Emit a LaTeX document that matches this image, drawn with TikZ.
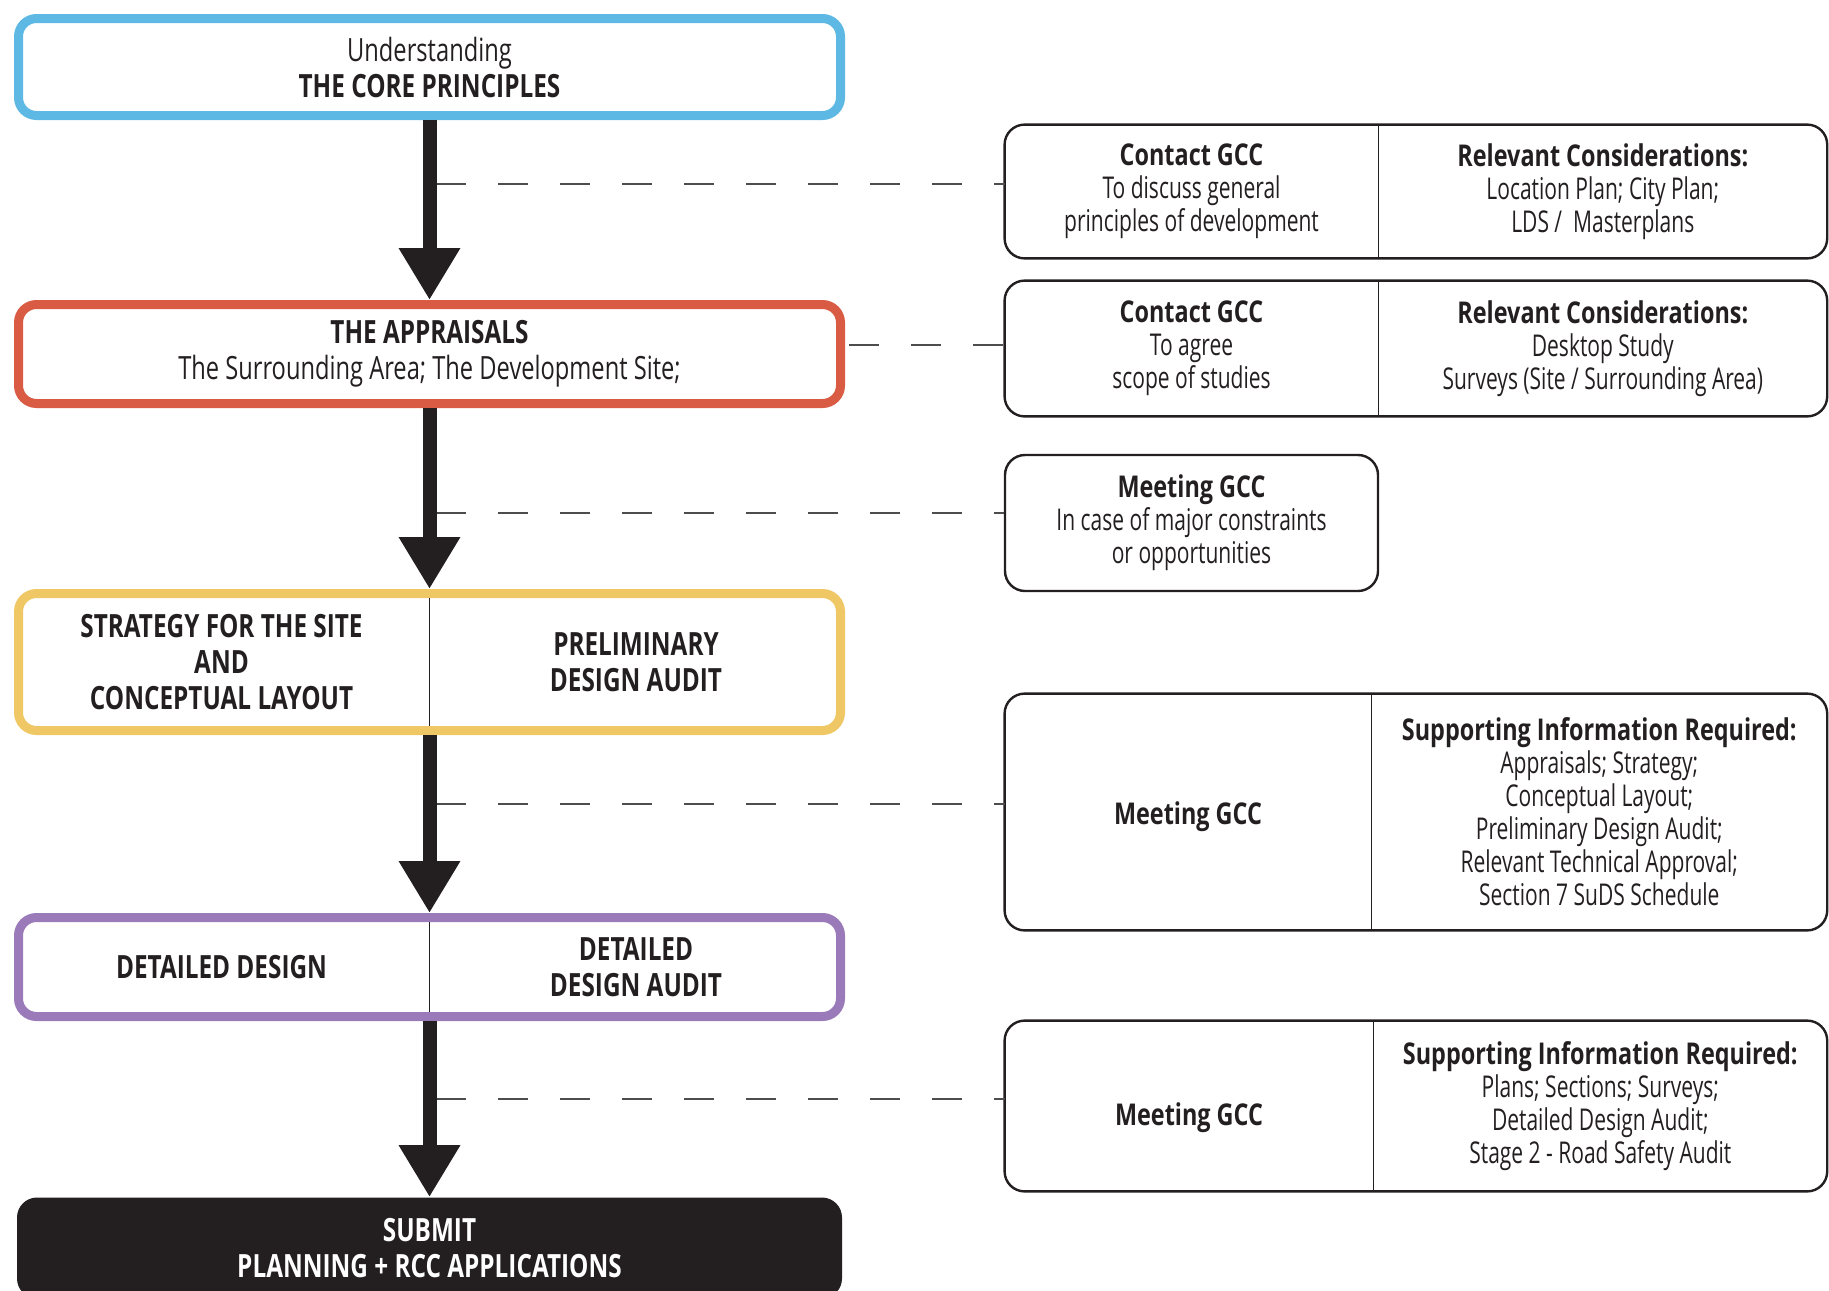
\documentclass[tikz,border=0pt]{standalone}
\usepackage{fontspec}
\setmainfont{Open Sans}[UprightFeatures={FakeStretch=0.7},BoldFeatures={FakeStretch=0.78}]
\newfontfamily\stagefont{Open Sans}[UprightFeatures={FakeStretch=0.74},BoldFeatures={FakeStretch=0.76}]
\usetikzlibrary{arrows.meta,positioning}
\definecolor{ink}{HTML}{231F20}
\definecolor{coreblue}{HTML}{5DB9E3}
\definecolor{apprred}{HTML}{D95B43}
\definecolor{stratyellow}{HTML}{EFC764}
\definecolor{detpurple}{HTML}{9A7AB8}
\definecolor{linkgray}{HTML}{4D4D4D}
\begin{document}
\begin{tikzpicture}[x=0.5pt,y=-0.5pt]
       \tikzstyle{stage}=[draw, line width=4.5pt, rounded corners=9pt, fill=white, minimum width=411pt, text=ink, align=center, font=\stagefont\fontsize{16}{18}\selectfont]
       \tikzstyle{stagetext}=[inner sep=0pt, text=ink, align=center, font=\stagefont\fontsize{16}{18}\selectfont\bfseries]
       \tikzstyle{cell}=[inner sep=0pt, text=ink, align=center, font=\fontsize{15}{16.5}\selectfont,
                         execute at begin node={\rule{0pt}{19pt}}]
       \tikzstyle{infobox}=[draw=ink, line width=1.2pt, rounded corners=10pt]
       \tikzstyle{divider}=[draw=ink, line width=0.8pt]
       \tikzstyle{flow}=[draw=ink, line width=7pt, -{Triangle[width=29pt,length=26pt]}]
       \tikzstyle{link}=[draw=linkgray, line width=1.1pt, dash pattern=on 15pt off 16pt]
       \useasboundingbox (0,0) rectangle (1829,1290);
       % stages on the left
       \node[stage, draw=coreblue, minimum height=48.5pt] (core) at (429.5,67)
        {Understanding\\\textbf{THE CORE PRINCIPLES}};
       \node[stage, draw=apprred, minimum height=49.5pt] (appr) at (429.5,354)
        {\textbf{THE APPRAISALS}\\The Surrounding Area; The Development Site;};
       \node[stage, draw=stratyellow, minimum height=68.5pt] (strat) at (429.5,662) {};
       \node[stagetext] (stratL) at (221.5,662) {STRATEGY FOR THE SITE\\AND\\CONCEPTUAL LAYOUT};
       \node[stagetext] (stratR) at (636,662) {PRELIMINARY\\DESIGN AUDIT};
       \draw[divider, shorten <=4.5pt, shorten >=4.5pt] (strat.north) -- (strat.south);
       \node[stage, draw=detpurple, minimum height=49.5pt] (det) at (429.5,967) {};
       \node[stagetext] (detL) at (221.5,967) {DETAILED DESIGN};
       \node[stagetext] (detR) at (636,967) {DETAILED\\DESIGN AUDIT};
       \draw[divider, shorten <=4.5pt, shorten >=4.5pt] (det.north) -- (det.south);
       \node[fill=ink, rounded corners=10pt, minimum width=412.5pt, minimum height=50.5pt,
             text=white, align=center, font=\stagefont\fontsize{16}{18}\selectfont\bfseries] (sub) at (429.5,1248)
        {SUBMIT\\PLANNING + RCC APPLICATIONS};
       % contacts and meetings on the right
       \node[cell, minimum width=186.5pt, minimum height=66.5pt] (c1l) at (1191.5,191.5)
        {\textbf{Contact GCC}\\To discuss general\\principles of development};
       \node[cell, minimum width=224pt, minimum height=66.5pt, right=0pt of c1l] (c1r)
        {\textbf{Relevant Considerations:}\\Location Plan; City Plan;\\LDS /\ \ Masterplans};
       \draw[infobox] (c1l.north west) rectangle (c1r.south east);
       \draw[divider] (c1l.north east) -- (c1l.south east);
       \node[cell, minimum width=186.5pt, minimum height=67.5pt] (c2l) at (1191.5,348.5)
        {\textbf{Contact GCC}\\To agree\\scope of studies};
       \node[cell, minimum width=224pt, minimum height=67.5pt, right=0pt of c2l] (c2r)
        {\textbf{Relevant Considerations:}\\Desktop Study\\Surveys (Site / Surrounding Area)};
       \draw[infobox] (c2l.north west) rectangle (c2r.south east);
       \draw[divider] (c2l.north east) -- (c2l.south east);
       \node[cell, infobox, minimum width=186.5pt, minimum height=68pt] (c3) at (1191.5,523)
        {\textbf{Meeting GCC}\\In case of major constraints\\or opportunities};
       \node[cell, minimum width=183pt, minimum height=118pt] (c4l) at (1188,812) {};
       \node[cell] (m4) at ([yshift=1.5pt]c4l.center) {\textbf{Meeting GCC}};
       \node[cell, minimum width=227.5pt, minimum height=118pt, right=0pt of c4l] (c4r)
        {\textbf{Supporting Information Required:}\\Appraisals; Strategy;\\Conceptual Layout;\\Preliminary Design Audit;\\Relevant Technical Approval;\\Section 7 SuDS Schedule};
       \draw[infobox] (c4l.north west) rectangle (c4r.south east);
       \draw[divider] (c4l.north east) -- (c4l.south east);
       \node[cell, minimum width=184pt, minimum height=85pt] (c5l) at (1189,1106) {};
       \node[cell] (m5) at ([yshift=-2pt]c5l.center) {\textbf{Meeting GCC}};
       \node[cell, minimum width=226.5pt, minimum height=85pt, right=0pt of c5l] (c5r)
        {\textbf{Supporting Information Required:}\\Plans; Sections; Surveys;\\Detailed Design Audit;\\Stage 2 - Road Safety Audit};
       \draw[infobox] (c5l.north west) rectangle (c5r.south east);
       \draw[divider] (c5l.north east) -- (c5l.south east);
       % dashed links
       \coordinate (d1) at (436,184);
       \coordinate (d2) at (849,345);
       \coordinate (d3) at (436,513);
       \coordinate (d4) at (436,804);
       \coordinate (d5) at (436,1099);
       \draw[link] (d1) -- (d1 -| c1l.west);
       \draw[link] (d2) -- (d2 -| c2l.west);
       \draw[link] (d3) -- (d3 -| c3.west);
       \draw[link] (d4) -- (d4 -| c4l.west);
       \draw[link] (d5) -- (d5 -| c5l.west);
       % flow arrows
       \draw[flow] (core.south) -- (appr.north);
       \draw[flow] (appr.south) -- (strat.north);
       \draw[flow] (strat.south) -- (det.north);
       \draw[flow] (det.south) -- (sub.north);
      \end{tikzpicture}
\end{document}
